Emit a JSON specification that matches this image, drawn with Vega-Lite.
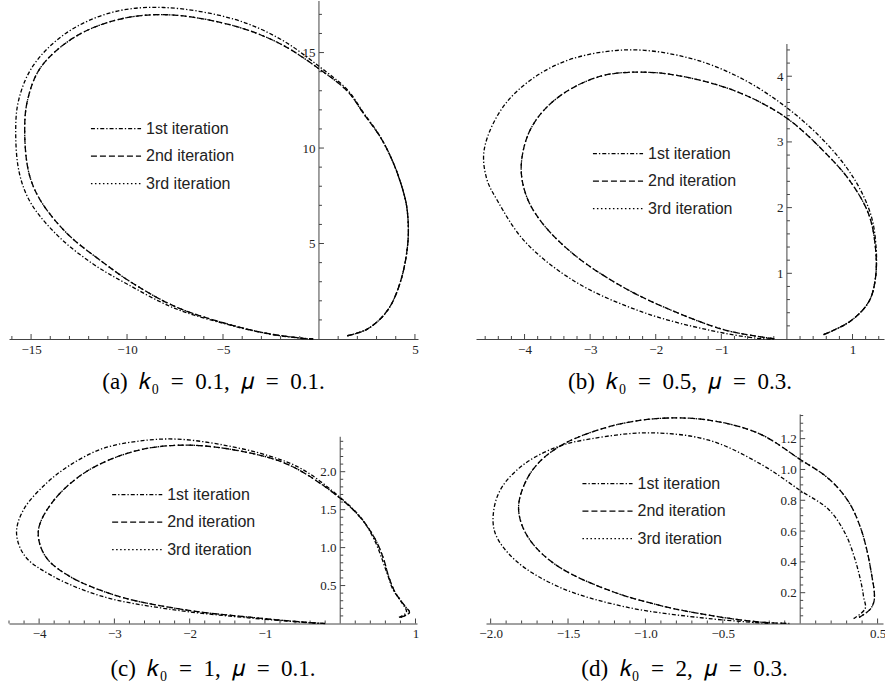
{
"$schema": "https://vega.github.io/schema/vega-lite/v6.json",
"padding": {"left": 8, "top": 0, "right": 0, "bottom": 0},
"background": "white",
"config": {
  "view": {"stroke": null},
  "axis": {"grid": false, "ticks": false, "labelFont": "Liberation Serif", "labelFontSize": 13, "labelColor": "#222", "domainColor": "#444", "domainWidth": 1, "labelOverlap": false, "labelFlush": false, "labelBound": false, "labelPadding": 4},
  "tick": {"thickness": 1, "color": "#444", "opacity": 1},
  "title": {"orient": "bottom", "anchor": "middle", "font": "Liberation Serif", "fontSize": 23, "fontWeight": "normal", "color": "black", "offset": 15},
  "legend": {"orient": "none", "symbolType": "M-4,0H4", "symbolSize": 157, "symbolStrokeWidth": 1.3, "symbolStrokeColor": "black", "labelFont": "Liberation Sans", "labelFontSize": 16, "labelColor": "#222", "labelOffset": 22, "rowPadding": 11.5, "padding": 0, "title": null}
},
"datasets": {
  "ticks": [
    {"p":"a","ax":"x","k":"mi","v":-16},{"p":"a","ax":"x","k":"mi","v":-14},{"p":"a","ax":"x","k":"mi","v":-13},{"p":"a","ax":"x","k":"mi","v":-12},{"p":"a","ax":"x","k":"mi","v":-11},{"p":"a","ax":"x","k":"mi","v":-9},{"p":"a","ax":"x","k":"mi","v":-8},{"p":"a","ax":"x","k":"mi","v":-7},{"p":"a","ax":"x","k":"mi","v":-6},{"p":"a","ax":"x","k":"mi","v":-4},{"p":"a","ax":"x","k":"mi","v":-3},{"p":"a","ax":"x","k":"mi","v":-2},{"p":"a","ax":"x","k":"mi","v":-1},{"p":"a","ax":"x","k":"mi","v":1},{"p":"a","ax":"x","k":"mi","v":2},{"p":"a","ax":"x","k":"mi","v":3},{"p":"a","ax":"x","k":"mi","v":4},
    {"p":"a","ax":"x","k":"ma","v":-15},{"p":"a","ax":"x","k":"ma","v":-10},{"p":"a","ax":"x","k":"ma","v":-5},{"p":"a","ax":"x","k":"ma","v":5},
    {"p":"a","ax":"y","k":"mi","v":1},{"p":"a","ax":"y","k":"mi","v":2},{"p":"a","ax":"y","k":"mi","v":3},{"p":"a","ax":"y","k":"mi","v":4},{"p":"a","ax":"y","k":"mi","v":6},{"p":"a","ax":"y","k":"mi","v":7},{"p":"a","ax":"y","k":"mi","v":8},{"p":"a","ax":"y","k":"mi","v":9},{"p":"a","ax":"y","k":"mi","v":11},{"p":"a","ax":"y","k":"mi","v":12},{"p":"a","ax":"y","k":"mi","v":13},{"p":"a","ax":"y","k":"mi","v":14},{"p":"a","ax":"y","k":"mi","v":16},{"p":"a","ax":"y","k":"mi","v":17},
    {"p":"a","ax":"y","k":"ma","v":5},{"p":"a","ax":"y","k":"ma","v":10},{"p":"a","ax":"y","k":"ma","v":15},
    {"p":"b","ax":"x","k":"mi","v":-4.6},{"p":"b","ax":"x","k":"mi","v":-4.4},{"p":"b","ax":"x","k":"mi","v":-4.2},{"p":"b","ax":"x","k":"mi","v":-3.8},{"p":"b","ax":"x","k":"mi","v":-3.6},{"p":"b","ax":"x","k":"mi","v":-3.4},{"p":"b","ax":"x","k":"mi","v":-3.2},{"p":"b","ax":"x","k":"mi","v":-2.8},{"p":"b","ax":"x","k":"mi","v":-2.6},{"p":"b","ax":"x","k":"mi","v":-2.4},{"p":"b","ax":"x","k":"mi","v":-2.2},{"p":"b","ax":"x","k":"mi","v":-1.8},{"p":"b","ax":"x","k":"mi","v":-1.6},{"p":"b","ax":"x","k":"mi","v":-1.4},{"p":"b","ax":"x","k":"mi","v":-1.2},{"p":"b","ax":"x","k":"mi","v":-0.8},{"p":"b","ax":"x","k":"mi","v":-0.6},{"p":"b","ax":"x","k":"mi","v":-0.4},{"p":"b","ax":"x","k":"mi","v":-0.2},{"p":"b","ax":"x","k":"mi","v":0.2},{"p":"b","ax":"x","k":"mi","v":0.4},{"p":"b","ax":"x","k":"mi","v":0.6},{"p":"b","ax":"x","k":"mi","v":0.8},{"p":"b","ax":"x","k":"mi","v":1.2},{"p":"b","ax":"x","k":"mi","v":1.4},
    {"p":"b","ax":"x","k":"ma","v":-4},{"p":"b","ax":"x","k":"ma","v":-3},{"p":"b","ax":"x","k":"ma","v":-2},{"p":"b","ax":"x","k":"ma","v":-1},{"p":"b","ax":"x","k":"ma","v":1},
    {"p":"b","ax":"y","k":"mi","v":0.2},{"p":"b","ax":"y","k":"mi","v":0.4},{"p":"b","ax":"y","k":"mi","v":0.6},{"p":"b","ax":"y","k":"mi","v":0.8},{"p":"b","ax":"y","k":"mi","v":1.2},{"p":"b","ax":"y","k":"mi","v":1.4},{"p":"b","ax":"y","k":"mi","v":1.6},{"p":"b","ax":"y","k":"mi","v":1.8},{"p":"b","ax":"y","k":"mi","v":2.2},{"p":"b","ax":"y","k":"mi","v":2.4},{"p":"b","ax":"y","k":"mi","v":2.6},{"p":"b","ax":"y","k":"mi","v":2.8},{"p":"b","ax":"y","k":"mi","v":3.2},{"p":"b","ax":"y","k":"mi","v":3.4},{"p":"b","ax":"y","k":"mi","v":3.6},{"p":"b","ax":"y","k":"mi","v":3.8},{"p":"b","ax":"y","k":"mi","v":4.2},{"p":"b","ax":"y","k":"mi","v":4.4},
    {"p":"b","ax":"y","k":"ma","v":1},{"p":"b","ax":"y","k":"ma","v":2},{"p":"b","ax":"y","k":"ma","v":3},{"p":"b","ax":"y","k":"ma","v":4},
    {"p":"c","ax":"x","k":"mi","v":-4.4},{"p":"c","ax":"x","k":"mi","v":-4.2},{"p":"c","ax":"x","k":"mi","v":-3.8},{"p":"c","ax":"x","k":"mi","v":-3.6},{"p":"c","ax":"x","k":"mi","v":-3.4},{"p":"c","ax":"x","k":"mi","v":-3.2},{"p":"c","ax":"x","k":"mi","v":-2.8},{"p":"c","ax":"x","k":"mi","v":-2.6},{"p":"c","ax":"x","k":"mi","v":-2.4},{"p":"c","ax":"x","k":"mi","v":-2.2},{"p":"c","ax":"x","k":"mi","v":-1.8},{"p":"c","ax":"x","k":"mi","v":-1.6},{"p":"c","ax":"x","k":"mi","v":-1.4},{"p":"c","ax":"x","k":"mi","v":-1.2},{"p":"c","ax":"x","k":"mi","v":-0.8},{"p":"c","ax":"x","k":"mi","v":-0.6},{"p":"c","ax":"x","k":"mi","v":-0.4},{"p":"c","ax":"x","k":"mi","v":-0.2},{"p":"c","ax":"x","k":"mi","v":0.2},{"p":"c","ax":"x","k":"mi","v":0.4},{"p":"c","ax":"x","k":"mi","v":0.6},{"p":"c","ax":"x","k":"mi","v":0.8},
    {"p":"c","ax":"x","k":"ma","v":-4},{"p":"c","ax":"x","k":"ma","v":-3},{"p":"c","ax":"x","k":"ma","v":-2},{"p":"c","ax":"x","k":"ma","v":-1},{"p":"c","ax":"x","k":"ma","v":1},
    {"p":"c","ax":"y","k":"mi","v":0.1},{"p":"c","ax":"y","k":"mi","v":0.2},{"p":"c","ax":"y","k":"mi","v":0.3},{"p":"c","ax":"y","k":"mi","v":0.4},{"p":"c","ax":"y","k":"mi","v":0.6},{"p":"c","ax":"y","k":"mi","v":0.7},{"p":"c","ax":"y","k":"mi","v":0.8},{"p":"c","ax":"y","k":"mi","v":0.9},{"p":"c","ax":"y","k":"mi","v":1.1},{"p":"c","ax":"y","k":"mi","v":1.2},{"p":"c","ax":"y","k":"mi","v":1.3},{"p":"c","ax":"y","k":"mi","v":1.4},{"p":"c","ax":"y","k":"mi","v":1.6},{"p":"c","ax":"y","k":"mi","v":1.7},{"p":"c","ax":"y","k":"mi","v":1.8},{"p":"c","ax":"y","k":"mi","v":1.9},{"p":"c","ax":"y","k":"mi","v":2.1},{"p":"c","ax":"y","k":"mi","v":2.2},{"p":"c","ax":"y","k":"mi","v":2.3},{"p":"c","ax":"y","k":"mi","v":2.4},
    {"p":"c","ax":"y","k":"ma","v":0.5},{"p":"c","ax":"y","k":"ma","v":1},{"p":"c","ax":"y","k":"ma","v":1.5},{"p":"c","ax":"y","k":"ma","v":2},
    {"p":"d","ax":"x","k":"mi","v":-1.9},{"p":"d","ax":"x","k":"mi","v":-1.8},{"p":"d","ax":"x","k":"mi","v":-1.7},{"p":"d","ax":"x","k":"mi","v":-1.6},{"p":"d","ax":"x","k":"mi","v":-1.4},{"p":"d","ax":"x","k":"mi","v":-1.3},{"p":"d","ax":"x","k":"mi","v":-1.2},{"p":"d","ax":"x","k":"mi","v":-1.1},{"p":"d","ax":"x","k":"mi","v":-0.9},{"p":"d","ax":"x","k":"mi","v":-0.8},{"p":"d","ax":"x","k":"mi","v":-0.7},{"p":"d","ax":"x","k":"mi","v":-0.6},{"p":"d","ax":"x","k":"mi","v":-0.4},{"p":"d","ax":"x","k":"mi","v":-0.3},{"p":"d","ax":"x","k":"mi","v":-0.2},{"p":"d","ax":"x","k":"mi","v":-0.1},{"p":"d","ax":"x","k":"mi","v":0.1},{"p":"d","ax":"x","k":"mi","v":0.2},{"p":"d","ax":"x","k":"mi","v":0.3},{"p":"d","ax":"x","k":"mi","v":0.4},
    {"p":"d","ax":"x","k":"ma","v":-2},{"p":"d","ax":"x","k":"ma","v":-1.5},{"p":"d","ax":"x","k":"ma","v":-1},{"p":"d","ax":"x","k":"ma","v":-0.5},{"p":"d","ax":"x","k":"ma","v":0.5},
    {"p":"d","ax":"y","k":"mi","v":0.05},{"p":"d","ax":"y","k":"mi","v":0.1},{"p":"d","ax":"y","k":"mi","v":0.15},{"p":"d","ax":"y","k":"mi","v":0.25},{"p":"d","ax":"y","k":"mi","v":0.3},{"p":"d","ax":"y","k":"mi","v":0.35},{"p":"d","ax":"y","k":"mi","v":0.45},{"p":"d","ax":"y","k":"mi","v":0.5},{"p":"d","ax":"y","k":"mi","v":0.55},{"p":"d","ax":"y","k":"mi","v":0.65},{"p":"d","ax":"y","k":"mi","v":0.7},{"p":"d","ax":"y","k":"mi","v":0.75},{"p":"d","ax":"y","k":"mi","v":0.85},{"p":"d","ax":"y","k":"mi","v":0.9},{"p":"d","ax":"y","k":"mi","v":0.95},{"p":"d","ax":"y","k":"mi","v":1.05},{"p":"d","ax":"y","k":"mi","v":1.1},{"p":"d","ax":"y","k":"mi","v":1.15},{"p":"d","ax":"y","k":"mi","v":1.25},{"p":"d","ax":"y","k":"mi","v":1.3},{"p":"d","ax":"y","k":"mi","v":1.35},
    {"p":"d","ax":"y","k":"ma","v":0.2},{"p":"d","ax":"y","k":"ma","v":0.4},{"p":"d","ax":"y","k":"ma","v":0.6},{"p":"d","ax":"y","k":"ma","v":0.8},{"p":"d","ax":"y","k":"ma","v":1},{"p":"d","ax":"y","k":"ma","v":1.2}
  ],
  "a": [
    {"it":"1st iteration","i":0,"x":1.48,"y":0.17},{"it":"1st iteration","i":1,"x":2.52,"y":0.52},{"it":"1st iteration","i":2,"x":3.56,"y":1.48},{"it":"1st iteration","i":3,"x":4.26,"y":3.05},{"it":"1st iteration","i":4,"x":4.64,"y":5.15},{"it":"1st iteration","i":5,"x":4.6,"y":6.72},{"it":"1st iteration","i":6,"x":4.43,"y":7.59},{"it":"1st iteration","i":7,"x":3.9,"y":9.16},{"it":"1st iteration","i":8,"x":3.21,"y":10.57},{"it":"1st iteration","i":9,"x":2.34,"y":11.82},{"it":"1st iteration","i":10,"x":1.48,"y":13.05},{"it":"1st iteration","i":11,"x":0,"y":14.28},{"it":"1st iteration","i":12,"x":-2.0,"y":15.7},{"it":"1st iteration","i":13,"x":-4.43,"y":16.75},{"it":"1st iteration","i":14,"x":-8.1,"y":17.36},{"it":"1st iteration","i":15,"x":-10.8,"y":17.1},{"it":"1st iteration","i":16,"x":-13.2,"y":16.0},{"it":"1st iteration","i":17,"x":-14.9,"y":14.3},{"it":"1st iteration","i":18,"x":-15.65,"y":12.5},{"it":"1st iteration","i":19,"x":-15.8,"y":10.73},{"it":"1st iteration","i":20,"x":-15.6,"y":8.64},{"it":"1st iteration","i":21,"x":-15.0,"y":7.1},{"it":"1st iteration","i":22,"x":-13.6,"y":5.4},{"it":"1st iteration","i":23,"x":-11.8,"y":3.95},{"it":"1st iteration","i":24,"x":-10.0,"y":2.88},{"it":"1st iteration","i":25,"x":-7.5,"y":1.6},{"it":"1st iteration","i":26,"x":-4.8,"y":0.77},{"it":"1st iteration","i":27,"x":-2.7,"y":0.28},{"it":"1st iteration","i":28,"x":-0.95,"y":0.04},{"it":"1st iteration","i":29,"x":-0.3,"y":0},
    {"it":"2nd iteration","i":0,"x":1.48,"y":0.17},{"it":"2nd iteration","i":1,"x":2.52,"y":0.52},{"it":"2nd iteration","i":2,"x":3.56,"y":1.48},{"it":"2nd iteration","i":3,"x":4.26,"y":3.05},{"it":"2nd iteration","i":4,"x":4.64,"y":5.15},{"it":"2nd iteration","i":5,"x":4.6,"y":6.72},{"it":"2nd iteration","i":6,"x":4.43,"y":7.59},{"it":"2nd iteration","i":7,"x":3.9,"y":9.16},{"it":"2nd iteration","i":8,"x":3.21,"y":10.55},{"it":"2nd iteration","i":9,"x":2.34,"y":11.78},{"it":"2nd iteration","i":10,"x":1.48,"y":12.98},{"it":"2nd iteration","i":11,"x":0,"y":14.15},{"it":"2nd iteration","i":12,"x":-2.0,"y":15.45},{"it":"2nd iteration","i":13,"x":-4.43,"y":16.4},{"it":"2nd iteration","i":14,"x":-7.9,"y":16.98},{"it":"2nd iteration","i":15,"x":-10.5,"y":16.72},{"it":"2nd iteration","i":16,"x":-12.76,"y":15.79},{"it":"2nd iteration","i":17,"x":-14.5,"y":14.22},{"it":"2nd iteration","i":18,"x":-15.19,"y":12.48},{"it":"2nd iteration","i":19,"x":-15.33,"y":10.73},{"it":"2nd iteration","i":20,"x":-15.1,"y":8.64},{"it":"2nd iteration","i":21,"x":-14.5,"y":7.24},{"it":"2nd iteration","i":22,"x":-13.1,"y":5.5},{"it":"2nd iteration","i":23,"x":-11.37,"y":4.1},{"it":"2nd iteration","i":24,"x":-9.64,"y":2.88},{"it":"2nd iteration","i":25,"x":-7.38,"y":1.65},{"it":"2nd iteration","i":26,"x":-4.77,"y":0.79},{"it":"2nd iteration","i":27,"x":-2.69,"y":0.29},{"it":"2nd iteration","i":28,"x":-0.95,"y":0.05},{"it":"2nd iteration","i":29,"x":-0.3,"y":0},
    {"it":"3rd iteration","i":0,"x":1.48,"y":0.17},{"it":"3rd iteration","i":1,"x":2.52,"y":0.52},{"it":"3rd iteration","i":2,"x":3.56,"y":1.48},{"it":"3rd iteration","i":3,"x":4.26,"y":3.05},{"it":"3rd iteration","i":4,"x":4.64,"y":5.15},{"it":"3rd iteration","i":5,"x":4.6,"y":6.72},{"it":"3rd iteration","i":6,"x":4.43,"y":7.59},{"it":"3rd iteration","i":7,"x":3.9,"y":9.16},{"it":"3rd iteration","i":8,"x":3.21,"y":10.55},{"it":"3rd iteration","i":9,"x":2.34,"y":11.78},{"it":"3rd iteration","i":10,"x":1.48,"y":12.98},{"it":"3rd iteration","i":11,"x":0,"y":14.15},{"it":"3rd iteration","i":12,"x":-2.0,"y":15.45},{"it":"3rd iteration","i":13,"x":-4.43,"y":16.4},{"it":"3rd iteration","i":14,"x":-7.9,"y":16.98},{"it":"3rd iteration","i":15,"x":-10.5,"y":16.72},{"it":"3rd iteration","i":16,"x":-12.76,"y":15.79},{"it":"3rd iteration","i":17,"x":-14.5,"y":14.22},{"it":"3rd iteration","i":18,"x":-15.19,"y":12.48},{"it":"3rd iteration","i":19,"x":-15.33,"y":10.73},{"it":"3rd iteration","i":20,"x":-15.1,"y":8.64},{"it":"3rd iteration","i":21,"x":-14.5,"y":7.24},{"it":"3rd iteration","i":22,"x":-13.1,"y":5.5},{"it":"3rd iteration","i":23,"x":-11.37,"y":4.1},{"it":"3rd iteration","i":24,"x":-9.64,"y":2.88},{"it":"3rd iteration","i":25,"x":-7.38,"y":1.65},{"it":"3rd iteration","i":26,"x":-4.77,"y":0.79},{"it":"3rd iteration","i":27,"x":-2.69,"y":0.29},{"it":"3rd iteration","i":28,"x":-0.95,"y":0.05},{"it":"3rd iteration","i":29,"x":-0.3,"y":0}
  ],
  "b": [
    {"it":"1st iteration","i":0,"x":0.56,"y":0.067},{"it":"1st iteration","i":1,"x":0.965,"y":0.27},{"it":"1st iteration","i":2,"x":1.25,"y":0.57},{"it":"1st iteration","i":3,"x":1.35,"y":0.93},{"it":"1st iteration","i":4,"x":1.36,"y":1.385},{"it":"1st iteration","i":5,"x":1.28,"y":1.89},{"it":"1st iteration","i":6,"x":1.03,"y":2.43},{"it":"1st iteration","i":7,"x":0.6,"y":2.98},{"it":"1st iteration","i":8,"x":0,"y":3.52},{"it":"1st iteration","i":9,"x":-0.7,"y":3.97},{"it":"1st iteration","i":10,"x":-1.5,"y":4.28},{"it":"1st iteration","i":11,"x":-2.48,"y":4.4},{"it":"1st iteration","i":12,"x":-3.5,"y":4.18},{"it":"1st iteration","i":13,"x":-4.26,"y":3.62},{"it":"1st iteration","i":14,"x":-4.61,"y":2.91},{"it":"1st iteration","i":15,"x":-4.58,"y":2.45},{"it":"1st iteration","i":16,"x":-4.41,"y":2.1},{"it":"1st iteration","i":17,"x":-4.0,"y":1.49},{"it":"1st iteration","i":18,"x":-3.24,"y":0.88},{"it":"1st iteration","i":19,"x":-2.23,"y":0.42},{"it":"1st iteration","i":20,"x":-1.21,"y":0.14},{"it":"1st iteration","i":21,"x":-0.45,"y":0.01},{"it":"1st iteration","i":22,"x":-0.2,"y":0},
    {"it":"2nd iteration","i":0,"x":0.56,"y":0.067},{"it":"2nd iteration","i":1,"x":0.965,"y":0.27},{"it":"2nd iteration","i":2,"x":1.25,"y":0.57},{"it":"2nd iteration","i":3,"x":1.35,"y":0.93},{"it":"2nd iteration","i":4,"x":1.35,"y":1.385},{"it":"2nd iteration","i":5,"x":1.25,"y":1.89},{"it":"2nd iteration","i":6,"x":0.965,"y":2.4},{"it":"2nd iteration","i":7,"x":0.56,"y":2.86},{"it":"2nd iteration","i":8,"x":0,"y":3.36},{"it":"2nd iteration","i":9,"x":-0.7,"y":3.74},{"it":"2nd iteration","i":10,"x":-1.46,"y":3.97},{"it":"2nd iteration","i":11,"x":-2.12,"y":4.06},{"it":"2nd iteration","i":12,"x":-2.84,"y":4.0},{"it":"2nd iteration","i":13,"x":-3.5,"y":3.67},{"it":"2nd iteration","i":14,"x":-3.9,"y":3.21},{"it":"2nd iteration","i":15,"x":-4.05,"y":2.65},{"it":"2nd iteration","i":16,"x":-3.98,"y":2.2},{"it":"2nd iteration","i":17,"x":-3.75,"y":1.79},{"it":"2nd iteration","i":18,"x":-3.24,"y":1.28},{"it":"2nd iteration","i":19,"x":-2.48,"y":0.78},{"it":"2nd iteration","i":20,"x":-1.72,"y":0.42},{"it":"2nd iteration","i":21,"x":-0.955,"y":0.14},{"it":"2nd iteration","i":22,"x":-0.45,"y":0.04},{"it":"2nd iteration","i":23,"x":-0.19,"y":0.006},
    {"it":"3rd iteration","i":0,"x":0.56,"y":0.067},{"it":"3rd iteration","i":1,"x":0.965,"y":0.27},{"it":"3rd iteration","i":2,"x":1.25,"y":0.57},{"it":"3rd iteration","i":3,"x":1.35,"y":0.93},{"it":"3rd iteration","i":4,"x":1.35,"y":1.385},{"it":"3rd iteration","i":5,"x":1.25,"y":1.89},{"it":"3rd iteration","i":6,"x":0.965,"y":2.4},{"it":"3rd iteration","i":7,"x":0.56,"y":2.86},{"it":"3rd iteration","i":8,"x":0,"y":3.36},{"it":"3rd iteration","i":9,"x":-0.7,"y":3.74},{"it":"3rd iteration","i":10,"x":-1.46,"y":3.97},{"it":"3rd iteration","i":11,"x":-2.12,"y":4.06},{"it":"3rd iteration","i":12,"x":-2.84,"y":4.0},{"it":"3rd iteration","i":13,"x":-3.5,"y":3.67},{"it":"3rd iteration","i":14,"x":-3.9,"y":3.21},{"it":"3rd iteration","i":15,"x":-4.05,"y":2.65},{"it":"3rd iteration","i":16,"x":-3.98,"y":2.2},{"it":"3rd iteration","i":17,"x":-3.75,"y":1.79},{"it":"3rd iteration","i":18,"x":-3.24,"y":1.28},{"it":"3rd iteration","i":19,"x":-2.48,"y":0.78},{"it":"3rd iteration","i":20,"x":-1.72,"y":0.42},{"it":"3rd iteration","i":21,"x":-0.955,"y":0.14},{"it":"3rd iteration","i":22,"x":-0.45,"y":0.04},{"it":"3rd iteration","i":23,"x":-0.19,"y":0.006}
  ],
  "c": [
    {"it":"1st iteration","i":0,"x":0.78,"y":0.08},{"it":"1st iteration","i":1,"x":0.88,"y":0.15},{"it":"1st iteration","i":2,"x":0.8,"y":0.3},{"it":"1st iteration","i":3,"x":0.7,"y":0.45},{"it":"1st iteration","i":4,"x":0.62,"y":0.67},{"it":"1st iteration","i":5,"x":0.45,"y":1.11},{"it":"1st iteration","i":6,"x":0.27,"y":1.4},{"it":"1st iteration","i":7,"x":0,"y":1.66},{"it":"1st iteration","i":8,"x":-0.5,"y":2.03},{"it":"1st iteration","i":9,"x":-0.95,"y":2.21},{"it":"1st iteration","i":10,"x":-1.6,"y":2.36},{"it":"1st iteration","i":11,"x":-2.19,"y":2.43},{"it":"1st iteration","i":12,"x":-2.7,"y":2.4},{"it":"1st iteration","i":13,"x":-3.17,"y":2.3},{"it":"1st iteration","i":14,"x":-3.6,"y":2.08},{"it":"1st iteration","i":15,"x":-3.9,"y":1.85},{"it":"1st iteration","i":16,"x":-4.2,"y":1.51},{"it":"1st iteration","i":17,"x":-4.3,"y":1.2},{"it":"1st iteration","i":18,"x":-4.19,"y":0.89},{"it":"1st iteration","i":19,"x":-3.83,"y":0.63},{"it":"1st iteration","i":20,"x":-3.17,"y":0.36},{"it":"1st iteration","i":21,"x":-2.28,"y":0.19},{"it":"1st iteration","i":22,"x":-1.17,"y":0.07},{"it":"1st iteration","i":23,"x":-0.28,"y":0},
    {"it":"2nd iteration","i":0,"x":0.8,"y":0.08},{"it":"2nd iteration","i":1,"x":0.92,"y":0.145},{"it":"2nd iteration","i":2,"x":0.86,"y":0.23},{"it":"2nd iteration","i":3,"x":0.73,"y":0.41},{"it":"2nd iteration","i":4,"x":0.64,"y":0.63},{"it":"2nd iteration","i":5,"x":0.577,"y":0.85},{"it":"2nd iteration","i":6,"x":0.465,"y":1.11},{"it":"2nd iteration","i":7,"x":0.29,"y":1.37},{"it":"2nd iteration","i":8,"x":0,"y":1.65},{"it":"2nd iteration","i":9,"x":-0.64,"y":2.07},{"it":"2nd iteration","i":10,"x":-1.17,"y":2.24},{"it":"2nd iteration","i":11,"x":-2.02,"y":2.35},{"it":"2nd iteration","i":12,"x":-2.73,"y":2.27},{"it":"2nd iteration","i":13,"x":-3.39,"y":1.99},{"it":"2nd iteration","i":14,"x":-3.83,"y":1.59},{"it":"2nd iteration","i":15,"x":-4.01,"y":1.22},{"it":"2nd iteration","i":16,"x":-3.92,"y":0.89},{"it":"2nd iteration","i":17,"x":-3.61,"y":0.63},{"it":"2nd iteration","i":18,"x":-2.95,"y":0.36},{"it":"2nd iteration","i":19,"x":-2.06,"y":0.18},{"it":"2nd iteration","i":20,"x":-1.17,"y":0.08},{"it":"2nd iteration","i":21,"x":-0.51,"y":0.02},{"it":"2nd iteration","i":22,"x":-0.2,"y":0},
    {"it":"3rd iteration","i":0,"x":0.8,"y":0.08},{"it":"3rd iteration","i":1,"x":0.92,"y":0.145},{"it":"3rd iteration","i":2,"x":0.86,"y":0.23},{"it":"3rd iteration","i":3,"x":0.73,"y":0.41},{"it":"3rd iteration","i":4,"x":0.64,"y":0.63},{"it":"3rd iteration","i":5,"x":0.577,"y":0.85},{"it":"3rd iteration","i":6,"x":0.465,"y":1.11},{"it":"3rd iteration","i":7,"x":0.29,"y":1.37},{"it":"3rd iteration","i":8,"x":0,"y":1.65},{"it":"3rd iteration","i":9,"x":-0.64,"y":2.07},{"it":"3rd iteration","i":10,"x":-1.17,"y":2.24},{"it":"3rd iteration","i":11,"x":-2.02,"y":2.35},{"it":"3rd iteration","i":12,"x":-2.73,"y":2.27},{"it":"3rd iteration","i":13,"x":-3.39,"y":1.99},{"it":"3rd iteration","i":14,"x":-3.83,"y":1.59},{"it":"3rd iteration","i":15,"x":-4.01,"y":1.22},{"it":"3rd iteration","i":16,"x":-3.92,"y":0.89},{"it":"3rd iteration","i":17,"x":-3.61,"y":0.63},{"it":"3rd iteration","i":18,"x":-2.95,"y":0.36},{"it":"3rd iteration","i":19,"x":-2.06,"y":0.18},{"it":"3rd iteration","i":20,"x":-1.17,"y":0.08},{"it":"3rd iteration","i":21,"x":-0.51,"y":0.02},{"it":"3rd iteration","i":22,"x":-0.2,"y":0}
  ],
  "d": [
    {"it":"1st iteration","i":0,"x":0.345,"y":0.032},{"it":"1st iteration","i":1,"x":0.42,"y":0.097},{"it":"1st iteration","i":2,"x":0.41,"y":0.17},{"it":"1st iteration","i":3,"x":0.399,"y":0.238},{"it":"1st iteration","i":4,"x":0.356,"y":0.411},{"it":"1st iteration","i":5,"x":0.291,"y":0.584},{"it":"1st iteration","i":6,"x":0.184,"y":0.74},{"it":"1st iteration","i":7,"x":0,"y":0.864},{"it":"1st iteration","i":8,"x":-0.247,"y":1.03},{"it":"1st iteration","i":9,"x":-0.59,"y":1.19},{"it":"1st iteration","i":10,"x":-0.98,"y":1.238},{"it":"1st iteration","i":11,"x":-1.345,"y":1.2},{"it":"1st iteration","i":12,"x":-1.56,"y":1.15},{"it":"1st iteration","i":13,"x":-1.776,"y":1.04},{"it":"1st iteration","i":14,"x":-1.926,"y":0.887},{"it":"1st iteration","i":15,"x":-1.98,"y":0.735},{"it":"1st iteration","i":16,"x":-1.97,"y":0.584},{"it":"1st iteration","i":17,"x":-1.84,"y":0.41},{"it":"1st iteration","i":18,"x":-1.56,"y":0.238},{"it":"1st iteration","i":19,"x":-1.13,"y":0.108},{"it":"1st iteration","i":20,"x":-0.59,"y":0.032},{"it":"1st iteration","i":21,"x":-0.2,"y":0},
    {"it":"2nd iteration","i":0,"x":0.38,"y":0.04},{"it":"2nd iteration","i":1,"x":0.45,"y":0.09},{"it":"2nd iteration","i":2,"x":0.476,"y":0.14},{"it":"2nd iteration","i":3,"x":0.479,"y":0.2},{"it":"2nd iteration","i":4,"x":0.464,"y":0.303},{"it":"2nd iteration","i":5,"x":0.431,"y":0.476},{"it":"2nd iteration","i":6,"x":0.388,"y":0.627},{"it":"2nd iteration","i":7,"x":0.313,"y":0.79},{"it":"2nd iteration","i":8,"x":0.184,"y":0.94},{"it":"2nd iteration","i":9,"x":0,"y":1.065},{"it":"2nd iteration","i":10,"x":-0.268,"y":1.234},{"it":"2nd iteration","i":11,"x":-0.59,"y":1.32},{"it":"2nd iteration","i":12,"x":-0.914,"y":1.331},{"it":"2nd iteration","i":13,"x":-1.237,"y":1.277},{"it":"2nd iteration","i":14,"x":-1.56,"y":1.147},{"it":"2nd iteration","i":15,"x":-1.73,"y":0.995},{"it":"2nd iteration","i":16,"x":-1.815,"y":0.8},{"it":"2nd iteration","i":17,"x":-1.808,"y":0.67},{"it":"2nd iteration","i":18,"x":-1.73,"y":0.52},{"it":"2nd iteration","i":19,"x":-1.56,"y":0.368},{"it":"2nd iteration","i":20,"x":-1.237,"y":0.216},{"it":"2nd iteration","i":21,"x":-0.914,"y":0.119},{"it":"2nd iteration","i":22,"x":-0.59,"y":0.054},{"it":"2nd iteration","i":23,"x":-0.268,"y":0.01},{"it":"2nd iteration","i":24,"x":-0.07,"y":0},
    {"it":"3rd iteration","i":0,"x":0.38,"y":0.04},{"it":"3rd iteration","i":1,"x":0.45,"y":0.09},{"it":"3rd iteration","i":2,"x":0.476,"y":0.14},{"it":"3rd iteration","i":3,"x":0.479,"y":0.2},{"it":"3rd iteration","i":4,"x":0.464,"y":0.303},{"it":"3rd iteration","i":5,"x":0.431,"y":0.476},{"it":"3rd iteration","i":6,"x":0.388,"y":0.627},{"it":"3rd iteration","i":7,"x":0.313,"y":0.79},{"it":"3rd iteration","i":8,"x":0.184,"y":0.94},{"it":"3rd iteration","i":9,"x":0,"y":1.065},{"it":"3rd iteration","i":10,"x":-0.268,"y":1.234},{"it":"3rd iteration","i":11,"x":-0.59,"y":1.32},{"it":"3rd iteration","i":12,"x":-0.914,"y":1.331},{"it":"3rd iteration","i":13,"x":-1.237,"y":1.277},{"it":"3rd iteration","i":14,"x":-1.56,"y":1.147},{"it":"3rd iteration","i":15,"x":-1.73,"y":0.995},{"it":"3rd iteration","i":16,"x":-1.815,"y":0.8},{"it":"3rd iteration","i":17,"x":-1.808,"y":0.67},{"it":"3rd iteration","i":18,"x":-1.73,"y":0.52},{"it":"3rd iteration","i":19,"x":-1.56,"y":0.368},{"it":"3rd iteration","i":20,"x":-1.237,"y":0.216},{"it":"3rd iteration","i":21,"x":-0.914,"y":0.119},{"it":"3rd iteration","i":22,"x":-0.59,"y":0.054},{"it":"3rd iteration","i":23,"x":-0.268,"y":0.01},{"it":"3rd iteration","i":24,"x":-0.07,"y":0}
  ]
},
"resolve": {"scale": {"x": "independent", "y": "independent", "strokeDash": "independent"}, "legend": {"strokeDash": "independent"}, "axis": {"x": "independent", "y": "independent"}},
"spacing": 19,
"vconcat": [
  {
    "spacing": 57,
    "resolve": {"scale": {"x": "independent", "y": "independent", "strokeDash": "independent"}, "legend": {"strokeDash": "independent"}, "axis": {"x": "independent", "y": "independent"}},
    "hconcat": [
      {
        "width": 409, "height": 338,
        "title": {"text": "(a)\u2002𝑘₀\u2002=\u20020.1,\u2002𝜇\u2002=\u20020.1."},
        "layer": [
          {"data": {"values": [{"x": 0, "y": 0, "y2": 17.7}]}, "mark": {"type": "rule", "color": "#444", "strokeWidth": 1},
           "encoding": {"x": {"field": "x", "type": "quantitative", "axis": {"title": null}}, "y": {"field": "y", "type": "quantitative", "axis": {"title": null}}, "y2": {"field": "y2"}}},
          {"data": {"name": "ticks"}, "transform": [{"filter": "datum.p == 'a' && datum.ax == 'x' && datum.k == 'mi'"}], "mark": {"type": "tick", "orient": "vertical", "size": 3, "yOffset": -1.5},
           "encoding": {"x": {"field": "v", "type": "quantitative", "axis": {"title": null}}, "y": {"datum": 0, "type": "quantitative", "axis": {"title": null}}}},
          {"data": {"name": "ticks"}, "transform": [{"filter": "datum.p == 'a' && datum.ax == 'x' && datum.k == 'ma'"}], "mark": {"type": "tick", "orient": "vertical", "size": 5, "yOffset": -2.5},
           "encoding": {"x": {"field": "v", "type": "quantitative", "axis": {"title": null}}, "y": {"datum": 0, "type": "quantitative", "axis": {"title": null}}}},
          {"data": {"name": "ticks"}, "transform": [{"filter": "datum.p == 'a' && datum.ax == 'y' && datum.k == 'mi'"}], "mark": {"type": "tick", "orient": "horizontal", "size": 3, "xOffset": 1.5},
           "encoding": {"y": {"field": "v", "type": "quantitative", "axis": {"title": null}}, "x": {"datum": 0, "type": "quantitative", "axis": {"title": null}}}},
          {"data": {"name": "ticks"}, "transform": [{"filter": "datum.p == 'a' && datum.ax == 'y' && datum.k == 'ma'"}], "mark": {"type": "tick", "orient": "horizontal", "size": 5, "xOffset": 2.5},
           "encoding": {"y": {"field": "v", "type": "quantitative", "axis": {"title": null}}, "x": {"datum": 0, "type": "quantitative", "axis": {"title": null}}}},
          {
            "data": {"name": "a"},
            "mark": {"type": "line", "interpolate": "catmull-rom", "strokeWidth": 1.3, "color": "black"},
            "encoding": {
              "x": {"field": "x", "type": "quantitative", "scale": {"domain": [-16.15, 5.16], "nice": false, "zero": false},
                    "axis": {"title": null, "orient": "bottom", "format": "d", "values": [-15, -10, -5, 5]}},
              "y": {"field": "y", "type": "quantitative", "scale": {"domain": [0, 17.7], "nice": false, "zero": false},
                    "axis": {"title": null, "orient": "left", "offset": -309.9, "domain": false, "format": "d", "values": [5, 10, 15]}},
              "strokeDash": {"field": "it", "type": "nominal", "scale": {"domain": ["1st iteration", "2nd iteration", "3rd iteration"], "range": [[4, 2, 1.3, 2], [6, 3], [1.5, 2.5]]},
                             "legend": {"legendX": 99, "legendY": 119.7, "rowPadding": 11.5}},
              "order": {"field": "i", "type": "quantitative"}
            }
          }
        ]
      },
      {
        "width": 408, "height": 338,
        "title": {"text": "(b)\u2002𝑘₀\u2002=\u20020.5,\u2002𝜇\u2002=\u20020.3."},
        "layer": [
          {"data": {"values": [{"x": 0, "y": 0, "y2": 4.49}]}, "mark": {"type": "rule", "color": "#444", "strokeWidth": 1},
           "encoding": {"x": {"field": "x", "type": "quantitative", "axis": {"title": null}}, "y": {"field": "y", "type": "quantitative", "axis": {"title": null}}, "y2": {"field": "y2"}}},
          {"data": {"name": "ticks"}, "transform": [{"filter": "datum.p == 'b' && datum.ax == 'x' && datum.k == 'mi'"}], "mark": {"type": "tick", "orient": "vertical", "size": 3, "yOffset": -1.5},
           "encoding": {"x": {"field": "v", "type": "quantitative", "axis": {"title": null}}, "y": {"datum": 0, "type": "quantitative", "axis": {"title": null}}}},
          {"data": {"name": "ticks"}, "transform": [{"filter": "datum.p == 'b' && datum.ax == 'x' && datum.k == 'ma'"}], "mark": {"type": "tick", "orient": "vertical", "size": 5, "yOffset": -2.5},
           "encoding": {"x": {"field": "v", "type": "quantitative", "axis": {"title": null}}, "y": {"datum": 0, "type": "quantitative", "axis": {"title": null}}}},
          {"data": {"name": "ticks"}, "transform": [{"filter": "datum.p == 'b' && datum.ax == 'y' && datum.k == 'mi'"}], "mark": {"type": "tick", "orient": "horizontal", "size": 3, "xOffset": 1.5},
           "encoding": {"y": {"field": "v", "type": "quantitative", "axis": {"title": null}}, "x": {"datum": 0, "type": "quantitative", "axis": {"title": null}}}},
          {"data": {"name": "ticks"}, "transform": [{"filter": "datum.p == 'b' && datum.ax == 'y' && datum.k == 'ma'"}], "mark": {"type": "tick", "orient": "horizontal", "size": 5, "xOffset": 2.5},
           "encoding": {"y": {"field": "v", "type": "quantitative", "axis": {"title": null}}, "x": {"datum": 0, "type": "quantitative", "axis": {"title": null}}}},
          {
            "data": {"name": "b"},
            "mark": {"type": "line", "interpolate": "catmull-rom", "strokeWidth": 1.3, "color": "black"},
            "encoding": {
              "x": {"field": "x", "type": "quantitative", "scale": {"domain": [-4.74, 1.48], "nice": false, "zero": false},
                    "axis": {"title": null, "orient": "bottom", "format": "d", "values": [-4, -3, -2, -1, 1]}},
              "y": {"field": "y", "type": "quantitative", "scale": {"domain": [0, 5.145], "nice": false, "zero": false},
                    "axis": {"title": null, "orient": "left", "offset": -311, "domain": false, "format": "d", "values": [1, 2, 3, 4]}},
              "strokeDash": {"field": "it", "type": "nominal", "scale": {"domain": ["1st iteration", "2nd iteration", "3rd iteration"], "range": [[4, 2, 1.3, 2], [6, 3], [1.5, 2.5]]},
                             "legend": {"legendX": 134, "legendY": 144.7, "rowPadding": 11.5}},
              "order": {"field": "i", "type": "quantitative"}
            }
          }
        ]
      }
    ]
  },
  {
    "spacing": 59,
    "resolve": {"scale": {"x": "independent", "y": "independent", "strokeDash": "independent"}, "legend": {"strokeDash": "independent"}, "axis": {"x": "independent", "y": "independent"}},
    "hconcat": [
      {
        "width": 408, "height": 209.5,
        "title": {"text": "(c)\u2002𝑘₀\u2002=\u20021,\u2002𝜇\u2002=\u20020.1.", "offset": 17},
        "layer": [
          {"data": {"values": [{"x": 0, "y": 0, "y2": 2.46}]}, "mark": {"type": "rule", "color": "#444", "strokeWidth": 1},
           "encoding": {"x": {"field": "x", "type": "quantitative", "axis": {"title": null}}, "y": {"field": "y", "type": "quantitative", "axis": {"title": null}}, "y2": {"field": "y2"}}},
          {"data": {"name": "ticks"}, "transform": [{"filter": "datum.p == 'c' && datum.ax == 'x' && datum.k == 'mi'"}], "mark": {"type": "tick", "orient": "vertical", "size": 3, "yOffset": -1.5},
           "encoding": {"x": {"field": "v", "type": "quantitative", "axis": {"title": null}}, "y": {"datum": 0, "type": "quantitative", "axis": {"title": null}}}},
          {"data": {"name": "ticks"}, "transform": [{"filter": "datum.p == 'c' && datum.ax == 'x' && datum.k == 'ma'"}], "mark": {"type": "tick", "orient": "vertical", "size": 5, "yOffset": -2.5},
           "encoding": {"x": {"field": "v", "type": "quantitative", "axis": {"title": null}}, "y": {"datum": 0, "type": "quantitative", "axis": {"title": null}}}},
          {"data": {"name": "ticks"}, "transform": [{"filter": "datum.p == 'c' && datum.ax == 'y' && datum.k == 'mi'"}], "mark": {"type": "tick", "orient": "horizontal", "size": 3, "xOffset": 1.5},
           "encoding": {"y": {"field": "v", "type": "quantitative", "axis": {"title": null}}, "x": {"datum": 0, "type": "quantitative", "axis": {"title": null}}}},
          {"data": {"name": "ticks"}, "transform": [{"filter": "datum.p == 'c' && datum.ax == 'y' && datum.k == 'ma'"}], "mark": {"type": "tick", "orient": "horizontal", "size": 5, "xOffset": 2.5},
           "encoding": {"y": {"field": "v", "type": "quantitative", "axis": {"title": null}}, "x": {"datum": 0, "type": "quantitative", "axis": {"title": null}}}},
          {
            "data": {"name": "c"},
            "mark": {"type": "line", "interpolate": "catmull-rom", "strokeWidth": 1.3, "color": "black"},
            "encoding": {
              "x": {"field": "x", "type": "quantitative", "scale": {"domain": [-4.4, 1.02], "nice": false, "zero": false},
                    "axis": {"title": null, "orient": "bottom", "format": "d", "values": [-4, -3, -2, -1, 1]}},
              "y": {"field": "y", "type": "quantitative", "scale": {"domain": [0, 2.76], "nice": false, "zero": false},
                    "axis": {"title": null, "orient": "left", "offset": -330.9, "domain": false, "format": ".1f", "values": [0.5, 1, 1.5, 2]}},
              "strokeDash": {"field": "it", "type": "nominal", "scale": {"domain": ["1st iteration", "2nd iteration", "3rd iteration"], "range": [[4, 2, 1.3, 2], [6, 3], [1.5, 2.5]]},
                             "legend": {"legendX": 120.2, "legendY": 72.7, "rowPadding": 11.5}},
              "order": {"field": "i", "type": "quantitative"}
            }
          }
        ]
      },
      {
        "width": 397, "height": 209.5,
        "title": {"text": "(d)\u2002𝑘₀\u2002=\u20022,\u2002𝜇\u2002=\u20020.3.", "offset": 17},
        "layer": [
          {"data": {"values": [{"x": 0, "y": 0, "y2": 1.357}]}, "mark": {"type": "rule", "color": "#444", "strokeWidth": 1},
           "encoding": {"x": {"field": "x", "type": "quantitative", "axis": {"title": null}}, "y": {"field": "y", "type": "quantitative", "axis": {"title": null}}, "y2": {"field": "y2"}}},
          {"data": {"name": "ticks"}, "transform": [{"filter": "datum.p == 'd' && datum.ax == 'x' && datum.k == 'mi'"}], "mark": {"type": "tick", "orient": "vertical", "size": 3, "yOffset": -1.5},
           "encoding": {"x": {"field": "v", "type": "quantitative", "axis": {"title": null}}, "y": {"datum": 0, "type": "quantitative", "axis": {"title": null}}}},
          {"data": {"name": "ticks"}, "transform": [{"filter": "datum.p == 'd' && datum.ax == 'x' && datum.k == 'ma'"}], "mark": {"type": "tick", "orient": "vertical", "size": 5, "yOffset": -2.5},
           "encoding": {"x": {"field": "v", "type": "quantitative", "axis": {"title": null}}, "y": {"datum": 0, "type": "quantitative", "axis": {"title": null}}}},
          {"data": {"name": "ticks"}, "transform": [{"filter": "datum.p == 'd' && datum.ax == 'y' && datum.k == 'mi'"}], "mark": {"type": "tick", "orient": "horizontal", "size": 3, "xOffset": 1.5},
           "encoding": {"y": {"field": "v", "type": "quantitative", "axis": {"title": null}}, "x": {"datum": 0, "type": "quantitative", "axis": {"title": null}}}},
          {"data": {"name": "ticks"}, "transform": [{"filter": "datum.p == 'd' && datum.ax == 'y' && datum.k == 'ma'"}], "mark": {"type": "tick", "orient": "horizontal", "size": 5, "xOffset": 2.5},
           "encoding": {"y": {"field": "v", "type": "quantitative", "axis": {"title": null}}, "x": {"datum": 0, "type": "quantitative", "axis": {"title": null}}}},
          {
            "data": {"name": "d"},
            "mark": {"type": "line", "interpolate": "catmull-rom", "strokeWidth": 1.3, "color": "black"},
            "encoding": {
              "x": {"field": "x", "type": "quantitative", "scale": {"domain": [-2.03, 0.535], "nice": false, "zero": false},
                    "axis": {"title": null, "orient": "bottom", "format": ".1f", "values": [-2, -1.5, -1, -0.5, 0.5]}},
              "y": {"field": "y", "type": "quantitative", "scale": {"domain": [0, 1.36], "nice": false, "zero": false},
                    "axis": {"title": null, "orient": "left", "offset": -314.2, "domain": false, "format": ".1f", "values": [0.2, 0.4, 0.6, 0.8, 1, 1.2]}},
              "strokeDash": {"field": "it", "type": "nominal", "scale": {"domain": ["1st iteration", "2nd iteration", "3rd iteration"], "range": [[4, 2, 1.3, 2], [6, 3], [1.5, 2.5]]},
                             "legend": {"legendX": 113.5, "legendY": 61.7, "rowPadding": 11.5}},
              "order": {"field": "i", "type": "quantitative"}
            }
          }
        ]
      }
    ]
  }
]
}
